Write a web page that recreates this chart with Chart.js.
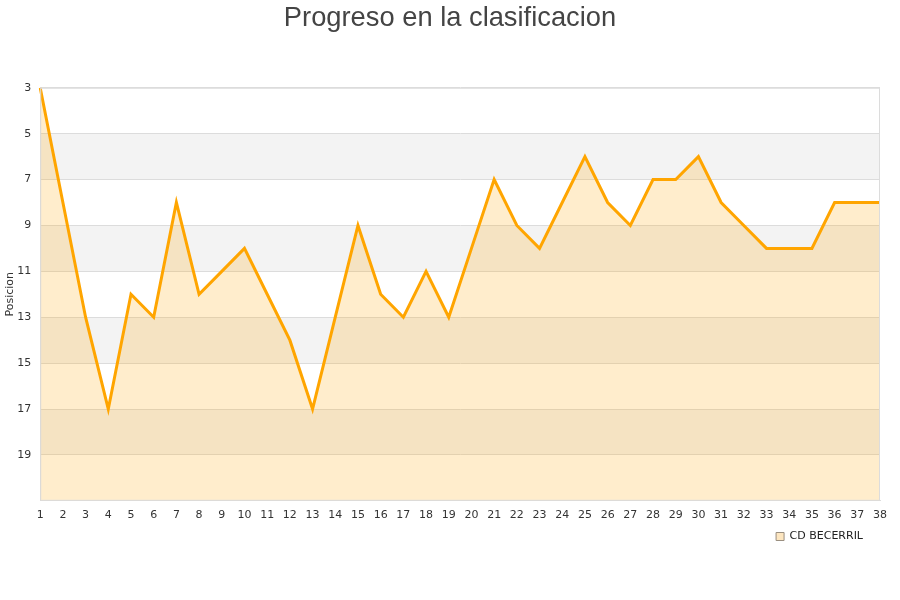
<!DOCTYPE html>
<html>
<head>
<meta charset="utf-8">
<script src="https://cdn.jsdelivr.net/npm/chart.js@4.4.1/dist/chart.umd.min.js"></script>
<style>
  body { margin: 0; background: #fff; }
  #wrap { width: 900px; height: 600px; }
</style>
</head>
<body>
<div id="wrap"><canvas id="myChart"></canvas></div>
<script>
var jornadas = [];
for (var j = 1; j <= 38; j++) { jornadas.push(String(j)); }

var posiciones = [3, 8, 13, 17, 12, 13, 8, 12, 11, 10,
                  12, 14, 17, 13, 9, 12, 13, 11, 13, 10,
                  7, 9, 10, 8, 6, 8, 9, 7, 7, 6,
                  8, 9, 10, 10, 10, 8, 8, 8];

var equipo = 'CD BECERRIL';
var posMin = 3;
var posMax = 21;

// alternate grey bands behind the chart + frame
var bandas = {
  id: 'bandas',
  afterLayout: function(chart) {
    // centre the title on the whole canvas, nudge legend left a bit
    if (chart.titleBlock) {
      chart.titleBlock.left = 0;
      chart.titleBlock.right = chart.width;
    }
    if (chart.legend) {
      chart.legend.left -= 8;
      chart.legend.right -= 8;
    }
  },
  beforeDraw: function(chart) {
    var ctx = chart.ctx;
    var area = chart.chartArea;
    var y = chart.scales.y;
    ctx.save();
    ctx.fillStyle = '#f3f3f3';
    for (var v = posMin + 2; v < posMax; v += 4) {
      var top = y.getPixelForValue(v);
      var bot = y.getPixelForValue(v + 2);
      ctx.fillRect(area.left, top, area.right - area.left, bot - top);
    }
    ctx.restore();
  },
  afterDatasetsDraw: function(chart) {
    var ctx = chart.ctx;
    var area = chart.chartArea;
    ctx.save();
    ctx.strokeStyle = '#dcdcdc';
    ctx.lineWidth = 1;
    ctx.strokeRect(area.left + 0.5, area.top + 0.5, area.right - area.left - 1, area.bottom - area.top - 1);
    ctx.restore();
  }
};

function chart1() {
  var ctx = document.getElementById('myChart');
  new Chart(ctx, {
    type: 'line',
    data: {
      labels: jornadas,
      datasets: [{
        label: equipo,
        data: posiciones,
        borderColor: '#ffa500',
        backgroundColor: 'rgba(255, 165, 0, 0.2)',
        borderWidth: 3,
        pointRadius: 0,
        tension: 0,
        fill: 'start'
      }]
    },
    options: {
      animation: false,
      maintainAspectRatio: false,
      responsive: true,
      layout: { padding: { left: 0, right: 20, top: 2, bottom: 48 } },
      plugins: {
        title: {
          display: true,
          text: 'Progreso en la clasificacion',
          color: '#444',
          font: { family: 'Liberation Sans', size: 27.3, weight: 'normal' },
          padding: { top: 0, bottom: 53 }
        },
        legend: {
          position: 'bottom',
          align: 'end',
          labels: {
            color: '#222',
            font: { family: 'DejaVu Sans', size: 11 },
            boxWidth: 8,
            boxHeight: 8,
            padding: 9,
            generateLabels: function(chart) {
              var items = Chart.defaults.plugins.legend.labels.generateLabels(chart);
              items.forEach(function(it) {
                it.fillStyle = '#fde6c0';
                it.strokeStyle = '#9a8f80';
                it.lineWidth = 1;
              });
              return items;
            }
          }
        },
        tooltip: { enabled: false }
      },
      scales: {
        x: {
          offset: false,
          grid: { display: false },
          border: { color: '#dcdcdc' },
          ticks: {
            color: '#333',
            padding: 0,
            font: { family: 'DejaVu Sans', size: 11 },
            maxRotation: 0,
            autoSkip: false
          }
        },
        y: {
          reverse: true,
          min: posMin,
          max: posMax,
          grid: { color: '#dcdcdc', drawTicks: false },
          border: { color: '#dcdcdc' },
          title: {
            display: true,
            text: 'Posicion',
            color: '#333',
            font: { family: 'DejaVu Sans', size: 11 },
            padding: { top: 4, bottom: -9 }
          },
          ticks: {
            stepSize: 2,
            color: '#333',
            padding: 9,
            font: { family: 'DejaVu Sans', size: 11 },
            callback: function(v) { return v === posMax ? '' : v; }
          }
        }
      }
    },
    plugins: [bandas]
  });
}

window.onload = function() {
  chart1();
};
</script>
</body>
</html>
